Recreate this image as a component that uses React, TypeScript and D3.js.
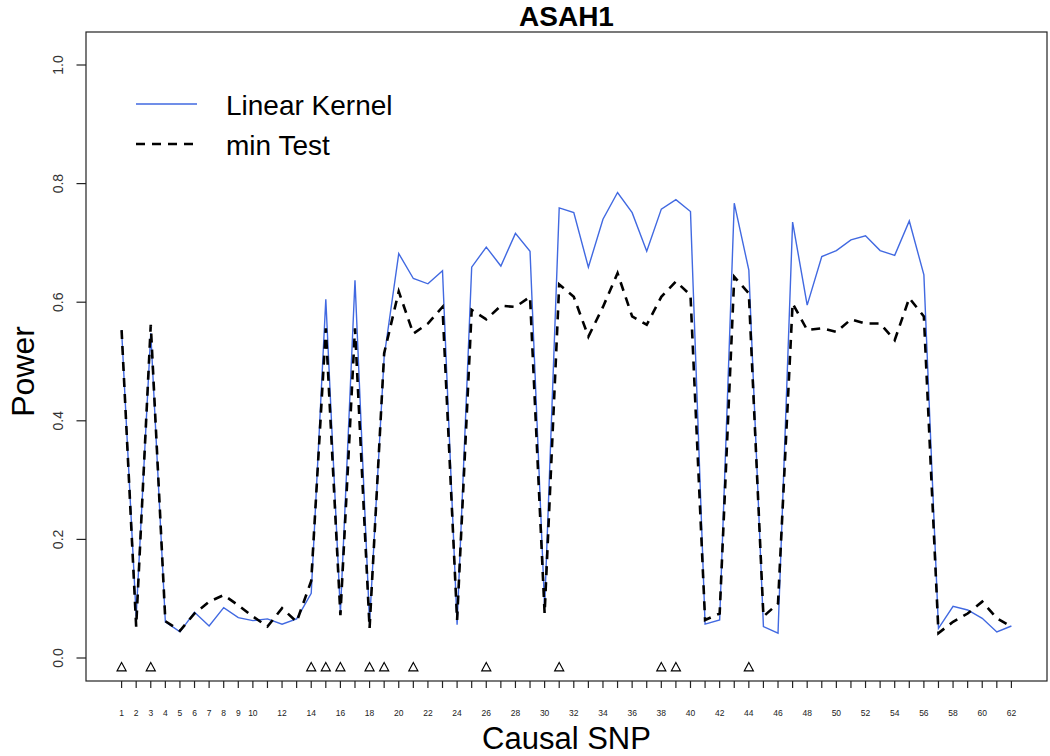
import React from "react";
import * as d3 from "d3";

const snps: number[] = d3.range(1, 63);
const linearKernel: number[] = [
  0.553, 0.070, 0.548, 0.061, 0.044, 0.077, 0.054, 0.085, 0.068, 0.063,
  0.066, 0.057, 0.066, 0.109, 0.605, 0.076, 0.637, 0.059, 0.508, 0.682,
  0.640, 0.631, 0.653, 0.056, 0.659, 0.693, 0.661, 0.716, 0.686, 0.085,
  0.759, 0.751, 0.659, 0.740, 0.785, 0.751, 0.686, 0.757, 0.773, 0.753,
  0.057, 0.064, 0.767, 0.654, 0.053, 0.042, 0.735, 0.595, 0.677, 0.687,
  0.705, 0.712, 0.687, 0.679, 0.737, 0.646, 0.050, 0.087, 0.081, 0.067,
  0.044, 0.054,
];
const minTest: number[] = [
  0.553, 0.053, 0.562, 0.062, 0.046, 0.075, 0.095, 0.106, 0.089, 0.070,
  0.053, 0.084, 0.061, 0.130, 0.556, 0.072, 0.556, 0.050, 0.514, 0.618,
  0.547, 0.564, 0.592, 0.064, 0.587, 0.571, 0.594, 0.592, 0.609, 0.075,
  0.630, 0.609, 0.542, 0.592, 0.649, 0.576, 0.562, 0.609, 0.635, 0.612,
  0.064, 0.075, 0.643, 0.615, 0.070, 0.092, 0.598, 0.553, 0.556, 0.550,
  0.571, 0.564, 0.564, 0.536, 0.607, 0.576, 0.042, 0.061, 0.075, 0.095,
  0.067, 0.053,
];
const markedSnps: number[] = [1, 3, 14, 15, 16, 18, 19, 21, 26, 31, 38, 39, 44];
const markerLevel = -0.015;
const xTickLabels: number[] = [1, 2, 3, 4, 5, 6, 7, 8, 9, 10, 12, 14, 16, 18, 20, 22, 24, 26, 28, 30, 32, 34, 36, 38, 40, 42, 44, 46, 48, 50, 52, 54, 56, 58, 60, 62];
const yTicks: number[] = [0, 0.2, 0.4, 0.6, 0.8, 1.0];
const seriesNames: string[] = ["Linear Kernel", "min Test"];

const W = 1050;
const H = 756;
const box = { left: 86, right: 1047, top: 32, bottom: 681 };
const FONT = "'Liberation Sans', Arial, Helvetica, sans-serif";
const BLUE = "#4169E1";

export default function App() {
  const x = d3.scaleLinear().domain([1 - 61 * 0.04, 62 + 61 * 0.04]).range([box.left, box.right]);
  const y = d3.scaleLinear().domain([0, 1]).range([658, 65]);

  const line = d3
    .line<number>()
    .x((_, i) => x(snps[i]))
    .y((d) => y(d));

  const tri = (cx: number, cy: number) => {
    const s = 4.6;
    const h = 8;
    return `M${cx},${cy - h / 2 - 0.5}L${cx + s},${cy + h / 2}L${cx - s},${cy + h / 2}Z`;
  };

  return (
    <svg
      width={W}
      height={H}
      style={{ position: "absolute", left: 0, top: 0, background: "#fff" }}
      fontFamily={FONT}
    >
      <rect x={0} y={0} width={W} height={H} fill="#fff" />
      {/* title */}
      <text x={(box.left + box.right) / 2} y={26} textAnchor="middle" fontSize={28} fontWeight="bold">
        ASAH1
      </text>
      {/* box */}
      <rect
        x={box.left}
        y={box.top}
        width={box.right - box.left}
        height={box.bottom - box.top}
        fill="none"
        stroke="#222"
        strokeWidth={1.2}
      />
      {/* y axis */}
      {yTicks.map((t) => (
        <g key={"y" + t}>
          <line x1={box.left - 9.5} x2={box.left} y1={y(t)} y2={y(t)} stroke="#222" strokeWidth={1.2} />
          <text
            transform={`translate(${62.5},${y(t)}) rotate(-90)`}
            textAnchor="middle"
            fontSize={14}
            fill="#333"
          >
            {t.toFixed(1)}
          </text>
        </g>
      ))}
      <text transform={`translate(${34},${(box.top + box.bottom) / 2 + 15}) rotate(-90)`} textAnchor="middle" fontSize={32}>
        Power
      </text>
      {/* x axis */}
      {snps.map((s) => (
        <line key={"xt" + s} x1={x(s)} x2={x(s)} y1={box.bottom} y2={box.bottom + 7} stroke="#222" strokeWidth={1.2} />
      ))}
      {xTickLabels.map((s) => (
        <text key={"xl" + s} x={x(s)} y={716} textAnchor="middle" fontSize={8.5} fill="#222">
          {s}
        </text>
      ))}
      <text x={(box.left + box.right) / 2} y={749} textAnchor="middle" fontSize={31}>
        Causal SNP
      </text>
      {/* series */}
      <path d={line(linearKernel) || ""} fill="none" stroke={BLUE} strokeWidth={1.4} />
      <path
        d={line(minTest) || ""}
        fill="none"
        stroke="#000"
        strokeWidth={2.6}
        strokeDasharray="9,7"
      />
      {/* markers */}
      {markedSnps.map((s) => (
        <path key={"m" + s} d={tri(x(s), y(markerLevel))} fill="none" stroke="#000" strokeWidth={1.1} />
      ))}
      {/* legend */}
      <line x1={136} x2={197} y1={104} y2={104} stroke={BLUE} strokeWidth={1.6} />
      <text x={226} y={115} fontSize={28}>
        {seriesNames[0]}
      </text>
      <line x1={136} x2={197} y1={144} y2={144} stroke="#000" strokeWidth={2.6} strokeDasharray="9,7" />
      <text x={226} y={155} fontSize={28}>
        {seriesNames[1]}
      </text>
    </svg>
  );
}
